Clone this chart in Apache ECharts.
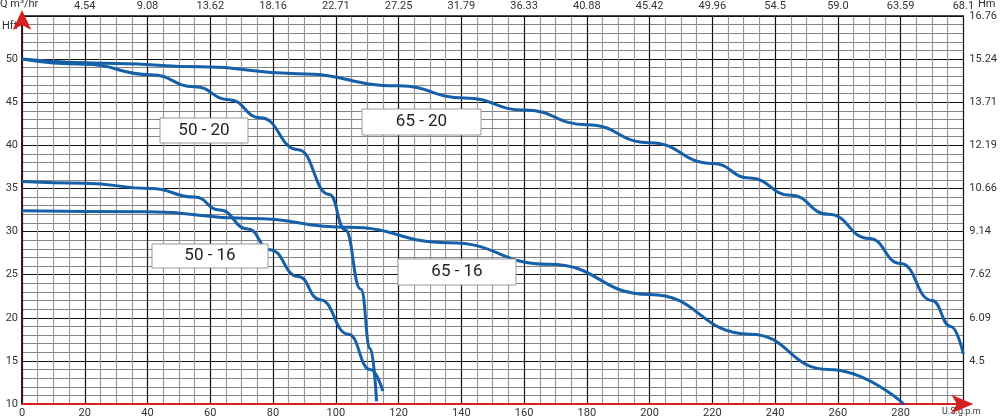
<!DOCTYPE html><html><head><meta charset="utf-8"><script src="https://cdn.jsdelivr.net/npm/echarts@6/dist/echarts.min.js"></script></head><body style="margin:0"><div id="c" style="width:1000px;height:419px"></div><script>
const topLabels={20:'4.54',40:'9.08',60:'13.62',80:'18.16',100:'22.71',120:'27.25',140:'31.79',160:'36.33',180:'40.88',200:'45.42',220:'49.96',240:'54.5',260:'59.0',280:'63.59',300:'68.1'};
const rightLabels={55:'16.76',50:'15.24',45:'13.71',40:'12.19',35:'10.66',30:'9.14',25:'7.62',20:'6.09',15:'4.5'};
const s6520=[[0,50],[30,49.5],[57,49.1],[88,48.3],[120,46.9],[141,45.5],[160,44.1],[180,42.4],[200,40.3],[220,37.9],[232,36.2],[245,34.2],[257,32],[270,29.2],[280,26.3],[290,22],[296,19],[300,15.8]];
const s5020=[[0,50],[20,49.4],[41,48.2],[55,46.8],[66,45.3],[76,43.2],[88,39.5],[98,34.3],[103,30.2],[108,23.3],[111,16.4],[113,10.3]];
const s5016=[[0,35.8],[20,35.6],[41,35],[55,34],[63,32.5],[72,30.3],[79,27.9],[88,24.8],[95,22.1],[104,18.1],[111,14],[115,11.5]];
const s6516=[[0,32.4],[40,32.3],[73,31.5],[104,30.5],[136,28.7],[168,26.2],[200,22.7],[232,18.1],[257,14],[281,10]];
const labels=[['50 - 20',160,118,88,25],['65 - 20',362,109,119,26],['50 - 16',152,244,116,24],['65 - 16',398,259,118,26]];
const ch=echarts.init(document.getElementById('c'));
const f='Roboto, sans-serif';
const line=d=>({type:'line',data:d,smooth:0.5,smoothMonotone:'x',symbol:'none',lineStyle:{color:'#1560a8',width:3},z:5});
ch.setOption({animation:false,
grid:{left:22,right:35,top:16,bottom:14},
xAxis:[{type:'value',min:0,max:300,interval:20,position:'bottom',
 axisLine:{lineStyle:{color:'#d42020',width:2},symbol:['none','arrow'],symbolSize:[14,22],symbolOffset:[0,10]},
 axisTick:{show:false},axisLabel:{fontFamily:f,fontSize:11,color:'#333',margin:4,formatter:v=>v==300?'':v},
 splitLine:{show:true,lineStyle:{color:'#111',width:1.2}},
 minorTick:{show:false,splitNumber:4},minorSplitLine:{show:true,lineStyle:{color:'#999',width:1.2}}},
 {type:'value',min:0,max:300,interval:20,position:'top',axisLine:{show:true,lineStyle:{color:'#111',width:1.5}},axisTick:{show:false},
 axisLabel:{fontFamily:f,fontSize:11,color:'#333',margin:4,formatter:v=>topLabels[v]||''},splitLine:{show:false}}],
yAxis:[{type:'value',min:10,max:55,interval:5,
 axisLine:{lineStyle:{color:'#d42020',width:2},symbol:['none','arrow'],symbolSize:[14,20],symbolOffset:[0,6]},
 axisTick:{show:false},axisLabel:{fontFamily:f,fontSize:11,color:'#333',margin:4,formatter:v=>v==55?'':v},
 splitLine:{show:true,lineStyle:{color:'#111',width:1.2}},
 minorTick:{show:false,splitNumber:5},minorSplitLine:{show:true,lineStyle:{color:'#666',width:0.8}}},
 {type:'value',min:10,max:55,interval:5,position:'right',axisLine:{show:true,lineStyle:{color:'#111',width:1.5}},axisTick:{show:false},
 axisLabel:{fontFamily:f,fontSize:11,color:'#333',margin:6,formatter:v=>rightLabels[v]||''},splitLine:{show:false}}],
graphic:[
 {type:'text',left:0,top:-1,style:{text:'Q m³/hr',font:'11px Roboto',fill:'#333'},z:20},
 {type:'text',left:2,top:21,style:{text:'Hft',font:'11px Roboto',fill:'#333'}},
 {type:'text',left:978,top:-1,style:{text:'Hm',font:'11px Roboto',fill:'#333'}},
 {type:'text',left:942,top:407,style:{text:'U.S.g.p.m',font:'9px Roboto',fill:'#333'}},
 ...labels.flatMap(([t,x,y,w,h])=>[
  {type:'rect',shape:{x:x,y:y,width:w,height:h},style:{fill:'#fff',stroke:'#999',lineWidth:1},z:10},
  {type:'text',x:x+w/2,y:y+h/2,style:{text:t,font:'17px Roboto',fill:'#222',align:'center',verticalAlign:'middle'},z:11}])],
series:[line(s6520),line(s5020),line(s5016),line(s6516)]});
</script></body></html>
